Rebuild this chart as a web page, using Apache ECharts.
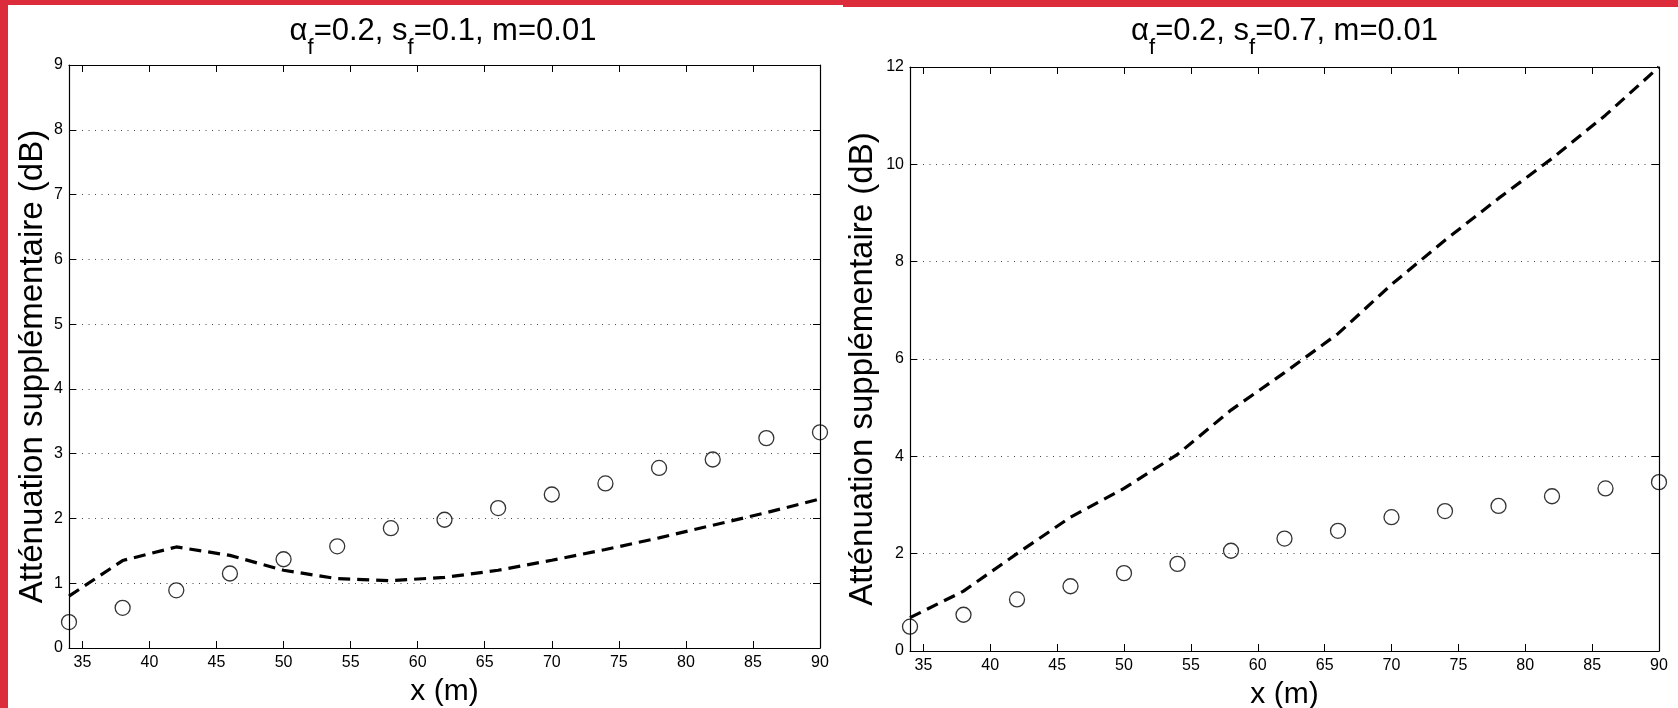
<!DOCTYPE html>
<html>
<head>
<meta charset="utf-8">
<script src="https://cdn.jsdelivr.net/npm/echarts@6/dist/echarts.min.js"></script>
<style>
  html, body { margin: 0; padding: 0; background: #fff; }
  #chart { width: 1678px; height: 708px; }
</style>
</head>
<body>
<div id="chart"></div>
<script>
// distances x (m)
var xValues = [34, 38, 42, 46, 50, 54, 58, 62, 66, 70, 74, 78, 82, 86, 90];
var xTicks = [35, 40, 45, 50, 55, 60, 65, 70, 75, 80, 85, 90];

// sf = 0.1
var leftCircles = [0.40, 0.62, 0.89, 1.15, 1.37, 1.57, 1.85, 1.98, 2.16, 2.37, 2.54, 2.78, 2.91, 3.24, 3.33];
var leftDashed = [0.80, 1.35, 1.56, 1.43, 1.20, 1.07, 1.04, 1.09, 1.20, 1.355, 1.52, 1.70, 1.895, 2.09, 2.30];

// sf = 0.7
var rightCircles = [0.50, 0.745, 1.06, 1.33, 1.60, 1.79, 2.06, 2.31, 2.47, 2.75, 2.875, 2.98, 3.18, 3.34, 3.47];
var rightDashed = [0.685, 1.23, 2.00, 2.75, 3.34, 4.04, 4.95, 5.72, 6.52, 7.53, 8.44, 9.30, 10.12, 11.01, 12.0];

var titles = ["{a|α}{s|f}{a|=0.2, s}{s|f}{a|=0.1, m=0.01}", "{a|α}{s|f}{a|=0.2, s}{s|f}{a|=0.7, m=0.01}"];
var yName = "Atténuation supplémentaire (dB)";
var xName = "x (m)";

var font = "Liberation Sans, Arial, Helvetica, sans-serif";

function pairs(xs, ys) {
  var out = [];
  for (var i = 0; i < xs.length; i++) {
    out.push([xs[i], ys[i]]);
  }
  return out;
}

function xAxisFor(grid, pos) {
  var bottom = pos === "bottom";
  return {
    type: "value",
    gridIndex: grid,
    position: pos,
    min: 34,
    max: 90,
    name: bottom ? xName : "",
    nameLocation: "middle",
    nameGap: 29,
    nameTextStyle: { fontFamily: font, fontSize: 30, color: "#000" },
    axisLine: { show: true, onZero: false, lineStyle: { color: "#000", width: 1.2 } },
    axisTick: { show: true, inside: true, length: 7, customValues: xTicks, lineStyle: { color: "#000" } },
    axisLabel: {
      show: bottom,
      customValues: xTicks,
      margin: 7,
      fontFamily: font,
      fontSize: 16,
      color: "#000"
    },
    splitLine: { show: false }
  };
}

function yAxisFor(grid, pos, max, step, gap) {
  var left = pos === "left";
  return {
    type: "value",
    gridIndex: grid,
    position: pos,
    min: 0,
    max: max,
    interval: step,
    name: left ? yName : "",
    nameLocation: "middle",
    nameGap: gap,
    // right padding pushes the rotated name a little down, as in the figure
    nameTextStyle: { fontFamily: font, fontSize: 33, color: "#000", padding: [0, 20, 0, 0] },
    axisLine: { show: true, onZero: false, lineStyle: { color: "#000", width: 1.2 } },
    axisTick: { show: true, inside: true, length: 7, lineStyle: { color: "#000" } },
    axisLabel: { show: left, margin: 6, fontFamily: font, fontSize: 16, color: "#000" },
    splitLine: {
      show: left,
      lineStyle: { color: "#444", width: 1, type: [1, 5.5] }
    }
  };
}

function titleFor(text, cx) {
  return {
    text: text,
    left: cx,
    top: 3,
    padding: 0,
    textAlign: "center",
    textStyle: {
      fontWeight: "normal",
      rich: {
        a: { fontFamily: font, fontSize: 31, fontWeight: "normal", color: "#000" },
        s: { fontFamily: font, fontSize: 22, fontWeight: "normal", color: "#000", padding: [34, 0, 0, 0] }
      }
    }
  };
}

var chart = echarts.init(document.getElementById("chart"));
var option = {
  backgroundColor: "#fff",
  animation: false,
  title: [titleFor(titles[0], 443), titleFor(titles[1], 1284.5)],
  grid: [
    { left: 69, top: 65, width: 751, height: 583, outerBoundsMode: "none" },
    { left: 910, top: 67, width: 749, height: 584, outerBoundsMode: "none" }
  ],
  xAxis: [
    xAxisFor(0, "bottom"),
    xAxisFor(0, "top"),
    xAxisFor(1, "bottom"),
    xAxisFor(1, "top")
  ],
  yAxis: [
    yAxisFor(0, "left", 9, 1, 20),
    yAxisFor(0, "right", 9, 1, 20),
    yAxisFor(1, "left", 12, 2, 31),
    yAxisFor(1, "right", 12, 2, 31)
  ],
  series: [
    {
      type: "scatter",
      xAxisIndex: 0,
      yAxisIndex: 0,
      symbol: "circle",
      symbolSize: 15,
      clip: false,
      itemStyle: { color: "rgba(0,0,0,0)", borderColor: "#000", borderWidth: 1.3 },
      data: pairs(xValues, leftCircles)
    },
    {
      type: "line",
      xAxisIndex: 0,
      yAxisIndex: 0,
      showSymbol: false,
      clip: false,
      lineStyle: { color: "#000", width: 3.2, type: [12, 7] },
      data: pairs(xValues, leftDashed)
    },
    {
      type: "scatter",
      xAxisIndex: 2,
      yAxisIndex: 2,
      symbol: "circle",
      symbolSize: 15,
      clip: false,
      itemStyle: { color: "rgba(0,0,0,0)", borderColor: "#000", borderWidth: 1.3 },
      data: pairs(xValues, rightCircles)
    },
    {
      type: "line",
      xAxisIndex: 2,
      yAxisIndex: 2,
      showSymbol: false,
      clip: false,
      lineStyle: { color: "#000", width: 3.2, type: [12, 7] },
      data: pairs(xValues, rightDashed)
    }
  ],
  graphic: [
    // red page frame
    { type: "rect", shape: { x: 0, y: 0, width: 8, height: 708 }, style: { fill: "#dc2b3b" }, silent: true },
    { type: "rect", shape: { x: 0, y: 0, width: 843, height: 5 }, style: { fill: "#dc2b3b" }, silent: true },
    { type: "rect", shape: { x: 843, y: 0, width: 835, height: 7 }, style: { fill: "#dc2b3b" }, silent: true }
  ]
};
chart.setOption(option);
</script>
</body>
</html>
